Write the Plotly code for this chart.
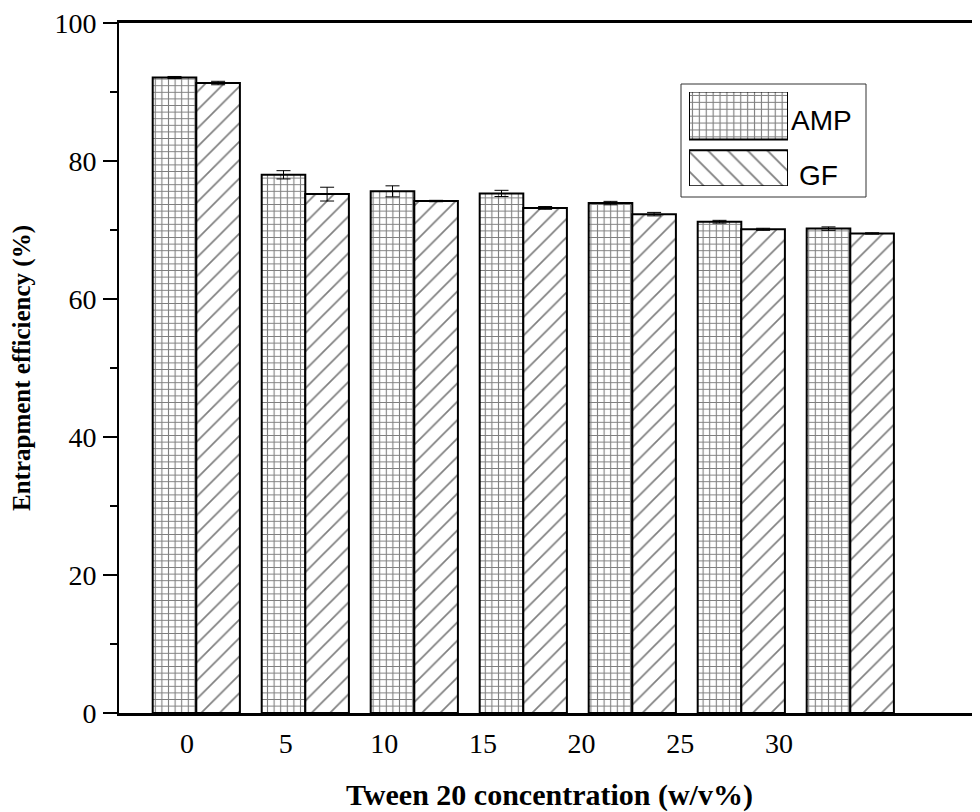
import numpy as np
import plotly.graph_objects as go

# ---- data ----
categories = ["0", "5", "10", "15", "20", "25", "30"]
amp = [92.1, 78.0, 75.6, 75.3, 73.9, 71.2, 70.2]
amp_err = [0.15, 0.6, 0.8, 0.45, 0.25, 0.2, 0.25]
gf = [91.3, 75.2, 74.2, 73.2, 72.3, 70.1, 69.5]
gf_err = [0.25, 1.0, 0.1, 0.2, 0.25, 0.15, 0.1]
series_names = ["AMP", "GF"]
x_title = "Tween 20 concentration (w/v%)"
y_title = "Entrapment efficiency (%)"

OFF = 8  # page body margin
W, H = 980 - OFF, 812 - OFF
PL, PT, PB, PR = 119, 23, 713, 980  # plot area in page pixels
L, T = PL - OFF, PT - OFF
B = H - (PB - OFF)
R = 0
pw, ph = PR - PL, PB - PT

def px_x(p):
    return (p - PL) / pw

def px_y(p):
    return (PB - p) / ph

group_pos = np.arange(len(categories)) + 0.2
label_pos = [0.115 + 0.905 * i for i in range(len(categories))]
serif = "Liberation Serif, Times New Roman, serif"
sans = "Liberation Sans, Arial, sans-serif"

fig = go.Figure()
fig.add_trace(go.Bar(
    x=group_pos, y=amp, name=series_names[0], showlegend=False,
    marker=dict(color="white", line=dict(color="black", width=2),
                pattern=dict(shape="+", size=6.6, solidity=0.3, fgcolor="black", bgcolor="white")),
    error_y=dict(type="data", array=amp_err, color="black", thickness=1, width=7),
))
fig.add_trace(go.Bar(
    x=group_pos, y=gf, name=series_names[1], showlegend=False,
    marker=dict(color="white", line=dict(color="black", width=2),
                pattern=dict(shape="/", size=13, solidity=0.13, fgcolor="black", bgcolor="white")),
    error_y=dict(type="data", array=gf_err, color="black", thickness=1, width=7),
))

# legend swatches drawn as a tiny inset
fig.add_trace(go.Bar(
    x=[1, 1], y=[1.0, -0.12], orientation="h", width=[1.02, 0.766], base=0,
    xaxis="x3", yaxis="y3", showlegend=False, hoverinfo="skip",
    marker=dict(color="white", line=dict(color="black", width=2),
                pattern=dict(shape=["+", "\\"], size=[6.9, 14], solidity=[0.3, 0.13],
                             fgcolor="black", bgcolor="white")),
))

x_range = [(PL - 174.5) / 109.0, (PR - 174.5) / 109.0]

fig.update_layout(
    width=W, height=H,
    margin=dict(l=L, r=R, t=T, b=B),
    paper_bgcolor="white", plot_bgcolor="white",
    barmode="group", bargap=0.2, bargroupgap=0,
    xaxis=dict(
        range=x_range, showgrid=False, zeroline=False,
        showline=True, mirror=True, linecolor="black", linewidth=2.5,
        tickmode="array", tickvals=label_pos, ticktext=categories,
        ticks="", ticklabelstandoff=4, ticklabeloverflow="allow",
        tickfont=dict(family=serif, size=28, color="black"),
        title=dict(text=x_title, standoff=26,
                   font=dict(family=serif, size=30, color="black", weight="bold")),
    ),
    xaxis2=dict(
        range=x_range, overlaying="x", anchor="y", side="top",
        showgrid=False, zeroline=False, showline=True, linecolor="black", linewidth=2,
        tick0=0, dtick=0.5, ticks="inside", ticklen=4, tickwidth=1.5, tickcolor="black",
        showticklabels=False, ticklabeloverflow="allow",
    ),
    yaxis=dict(
        range=[0, 100], showgrid=False, zeroline=False,
        showline=True, linecolor="black", linewidth=2,
        tick0=0, dtick=20, ticks="outside", ticklen=14, tickwidth=2, tickcolor="black",
        minor=dict(dtick=10, ticks="outside", ticklen=7, tickwidth=2, tickcolor="black"),
        ticklabelstandoff=1, ticklabeloverflow="allow",
        tickfont=dict(family=serif, size=28, color="black"),
        title=dict(text=y_title, standoff=30,
                   font=dict(family=serif, size=25, color="black", weight="bold")),
    ),
    xaxis3=dict(domain=[px_x(689), px_x(788)], range=[0, 1], anchor="y3",
                visible=False, fixedrange=True),
    yaxis3=dict(domain=[px_y(186), px_y(92)], range=[-0.5, 1.5], anchor="x3",
                visible=False, fixedrange=True),
    shapes=[dict(type="rect", xref="paper", yref="paper",
                 x0=px_x(681), x1=px_x(866), y0=px_y(197), y1=px_y(84),
                 line=dict(color="#333", width=1), fillcolor="rgba(0,0,0,0)")],
    annotations=[
        dict(text=series_names[0], xref="paper", yref="paper", x=px_x(789), y=px_y(120),
             xanchor="left", yanchor="middle", showarrow=False,
             font=dict(family=sans, size=28, color="black")),
        dict(text=series_names[1], xref="paper", yref="paper", x=px_x(797), y=px_y(175),
             xanchor="left", yanchor="middle", showarrow=False,
             font=dict(family=sans, size=28, color="black")),
    ],
)

fig.write_html("out.html")
